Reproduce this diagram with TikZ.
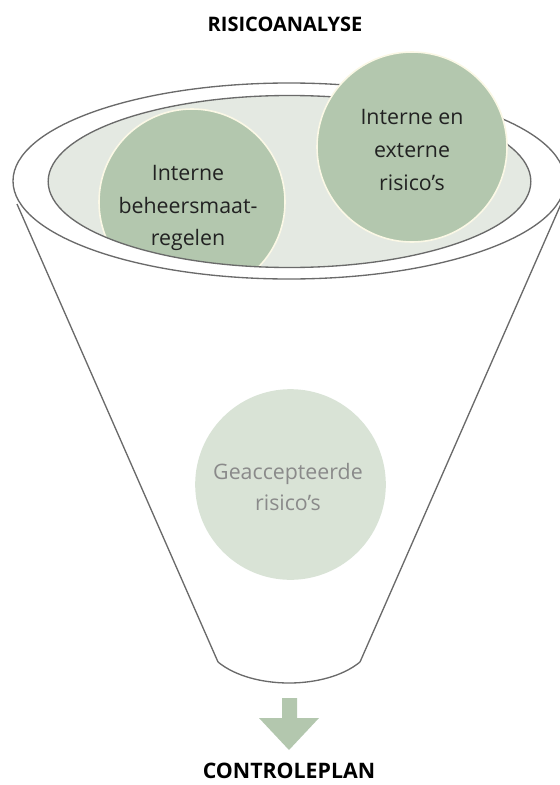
\documentclass[tikz,border=0pt]{standalone}
\usepackage{fontspec}
\setmainfont{Open Sans}
\definecolor{linegray}{HTML}{6A6A6A}
\definecolor{innerfill}{HTML}{E4E9E2}
\definecolor{sage}{HTML}{B3C7AE}
\definecolor{palesage}{HTML}{D9E3D6}
\definecolor{cream}{HTML}{FBF8E6}
\definecolor{txtdark}{HTML}{222222}
\definecolor{txtgray}{HTML}{8A8A8A}
\begin{document}
\begin{tikzpicture}[x=0.75pt,y=-0.75pt,
  funnelline/.style={draw=linegray,line width=1pt},
  riskcircle/.style={circle,fill=sage,draw=cream,line width=1.2pt,inner sep=0pt},
  palecircle/.style={circle,fill=palesage,inner sep=0pt,minimum size=143pt},
  bodytxt/.style={align=center,text=txtdark,font=\fontsize{16}{24.5}\selectfont},
  headtxt/.style={font=\fontsize{15}{18}\selectfont\bfseries,text=black},
  arrowfill/.style={fill=sage,draw=none}]
\useasboundingbox (0,0) rectangle (560,785);
% titles
\node[headtxt] (top) at (285,24) {RISICOANALYSE};
\node[headtxt,font=\fontsize{16}{18}\selectfont\bfseries] (bottom) at (289,771) {CONTROLEPLAN};
% funnel sides
\coordinate (tl) at (17,204);
\coordinate (tr) at (561,204);
\coordinate (bl) at (218,662);
\coordinate (br) at (360,662);
\draw[funnelline] (tl) -- (bl);
\draw[funnelline] (tr) -- (br);
\draw[funnelline] (bl) .. controls (252,690) and (326,690) .. (br);
% outer rim
\coordinate (rim) at (289,181);
\draw[funnelline,fill=white] (rim) ellipse [x radius=207pt, y radius=73.5pt];
% inner rim
\coordinate (inner) at (289.5,181.5);
\fill[innerfill] (inner) ellipse [x radius=181pt, y radius=64.5pt];
\begin{scope}
  \clip (inner) ellipse [x radius=181pt, y radius=64.5pt];
  \node[riskcircle,minimum size=139.5pt] (c1) at (192,202) {};
\end{scope}
\draw[funnelline] (inner) ellipse [x radius=181pt, y radius=64.5pt];
\node[bodytxt] (t1) at (188,208) {Interne\\beheersmaat-\\regelen};
% second circle
\node[riskcircle,minimum size=142.5pt] (c2) at (412,147) {};
\node[bodytxt] (t2) at (412,150) {Interne en\\externe\\risico’s};
% accepted risks
\node[palecircle] (c3) at (290.5,484.5) {};
\node[bodytxt,text=txtgray,font=\fontsize{16}{23}\selectfont] (t3) at (288,487) {Geaccepteerde\\risico’s};
% arrow
\fill[arrowfill] (282,698) -- (297,698) -- (297,718) -- (319,718) -- (289,750) -- (259,718) -- (282,718) -- cycle;
\end{tikzpicture}
\end{document}
